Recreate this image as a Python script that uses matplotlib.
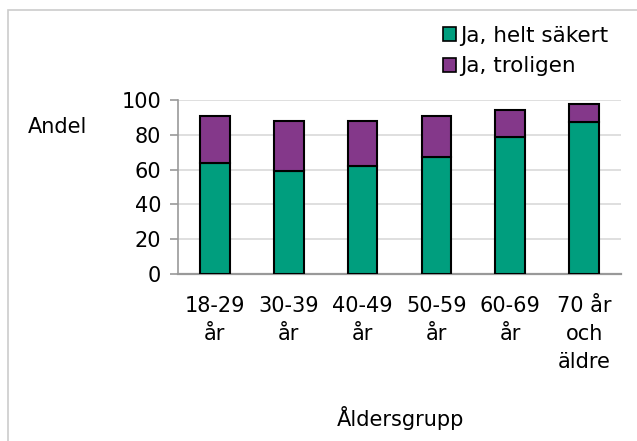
import matplotlib.pyplot as plt
import matplotlib.patches as mpatches
import numpy as np

# data
groups = ["18-29\når", "30-39\når", "40-49\når", "50-59\når", "60-69\når", "70 år\noch\näldre"]
helt_sakert = [64, 59, 62, 67, 79, 87.5]
troligen = [26.6, 29, 25.7, 23.9, 15.2, 10]
series_names = ["Ja, helt säkert", "Ja, troligen"]
yticks = [0, 20, 40, 60, 80, 100]

green = "#009E7E"
purple = "#84388A"

plt.rcParams['font.family'] = ['DejaVu Sans']

fig = plt.figure(figsize=(6.37, 4.41), dpi=100)
ax = fig.add_axes([178/637, 1-274/441, (621-178)/637, (274-100)/441])

x = np.arange(len(groups))
ax.bar(x, helt_sakert, width=0.4, color=green, edgecolor="black", linewidth=1.5,
       label=series_names[0], zorder=3)
ax.bar(x, troligen, width=0.4, bottom=helt_sakert, color=purple, edgecolor="black",
       linewidth=1.5, label=series_names[1], zorder=3)

ax.set_xlim(-0.5, len(groups) - 0.5)
ax.set_ylim(0, 100)
ax.set_yticks(yticks)
ax.set_xticks(x)
ax.set_xticklabels(groups, fontsize=15, linespacing=1.5)
ax.tick_params(axis="y", labelsize=15, length=6, color="#999999", width=1.2, pad=6)
ax.tick_params(axis="x", length=0, pad=16)

ax.grid(axis="y", color="#d9d9d9", linewidth=1.2, zorder=0)
for s in ["top", "right"]:
    ax.spines[s].set_visible(False)
ax.spines["left"].set_color("#999999")
ax.spines["bottom"].set_color("#999999")
ax.spines["left"].set_linewidth(1.2)
ax.spines["bottom"].set_linewidth(1.6)

fig.text(28/637, 1-127/441, "Andel", fontsize=15, va="center", ha="left")
fig.text(400/637, 1-418/441, "Åldersgrupp", fontsize=15, va="center", ha="center")

# legend
handles = [mpatches.Patch(facecolor=green, edgecolor="black", linewidth=1.2),
           mpatches.Patch(facecolor=purple, edgecolor="black", linewidth=1.2)]
fig.legend(handles, series_names, loc="upper left", bbox_to_anchor=(434/637, 1-17/441),
           frameon=False, fontsize=15.5, handlelength=0.6, handleheight=0.6,
           handletextpad=0.2, labelspacing=0.5, borderaxespad=0)

# light frame around the chart
fig.patches.append(mpatches.Rectangle((8/637, -0.05), 1.05, 1 - 10/441 + 0.05,
                                      transform=fig.transFigure, fill=False,
                                      edgecolor="#cccccc", linewidth=1.2))

fig.savefig("out.png", dpi=100)
